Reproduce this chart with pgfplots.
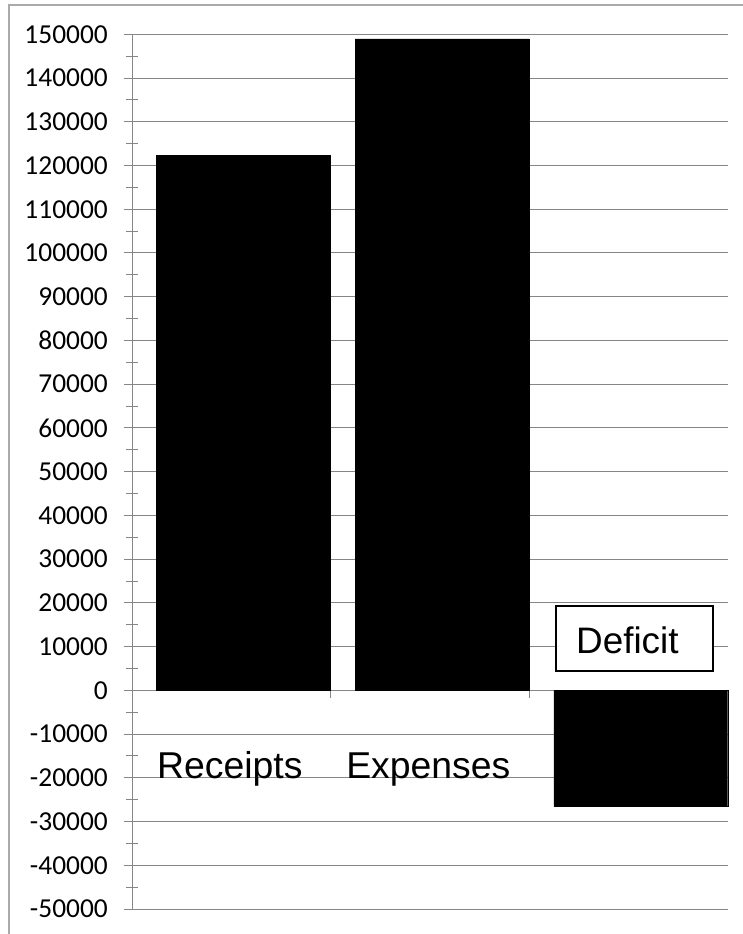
\documentclass[border=0pt]{standalone}
\usepackage{fontspec}
\setmainfont{Carlito}
\newfontfamily\arialf{Liberation Sans}
\usepackage{pgfplots}
\pgfplotsset{compat=1.18}
\definecolor{gridc}{RGB}{134,134,134}
\definecolor{framec}{RGB}{170,170,170}
\begin{document}
\begin{tikzpicture}[x=1bp,y=1bp]
\useasboundingbox (0,0) rectangle (743,-934);
\begin{scope}
\clip (0,0) rectangle (743,-934);
\draw[framec, line width=1.6bp] (9,-5) rectangle (770,-970);
\end{scope}
\begin{axis}[
  at={(132bp,-909bp)}, anchor=south west,
  scale only axis, width=595.7bp, height=874.7bp,
  xmin=0, xmax=3, ymin=-50000, ymax=150000,
  enlargelimits=false,
  axis x line*=middle, axis y line*=left,
  axis line style={gridc, line width=1bp},
  xtick={1,2}, xticklabels={},
  ytick distance=10000, minor y tick num=1,
  tick align=outside,
  major tick length=8bp, minor tick length=12bp,
  tick style={gridc, line width=1bp},
  minor y tick style={xshift=6bp},
  ymajorgrids, grid style={gridc, line width=1bp},
  scaled y ticks=false,
  /pgf/number format/assume math mode=true,
  yticklabel={\pgfmathprintnumber[fixed, set thousands separator={}]{\tick}},
  yticklabel style={font=\fontsize{27.5}{31}\selectfont, anchor=east, inner sep=0pt, xshift=-16bp},
  ybar, bar width=0.876, bar shift=0pt,
  clip=false,
]
\addplot[fill=black, draw=black] coordinates {(0.562,122400) (1.562,148950) (2.562,-26550)};
\node[anchor=base west, inner sep=0pt, font=\arialf\fontsize{37.5}{40}\selectfont] at (axis cs:0.126,-20055) {Receipts};
\node[anchor=base west, inner sep=0pt, font=\arialf\fontsize{37.5}{40}\selectfont] at (axis cs:1.078,-20055) {Expenses};
\draw[black, line width=1.5bp, fill=white] (axis cs:2.135,19277) rectangle (axis cs:2.925,4413);
\node[anchor=base west, inner sep=0pt, font=\arialf\fontsize{37}{40}\selectfont] at (axis cs:2.236,8530) {Deficit};
\end{axis}
\end{tikzpicture}
\end{document}
